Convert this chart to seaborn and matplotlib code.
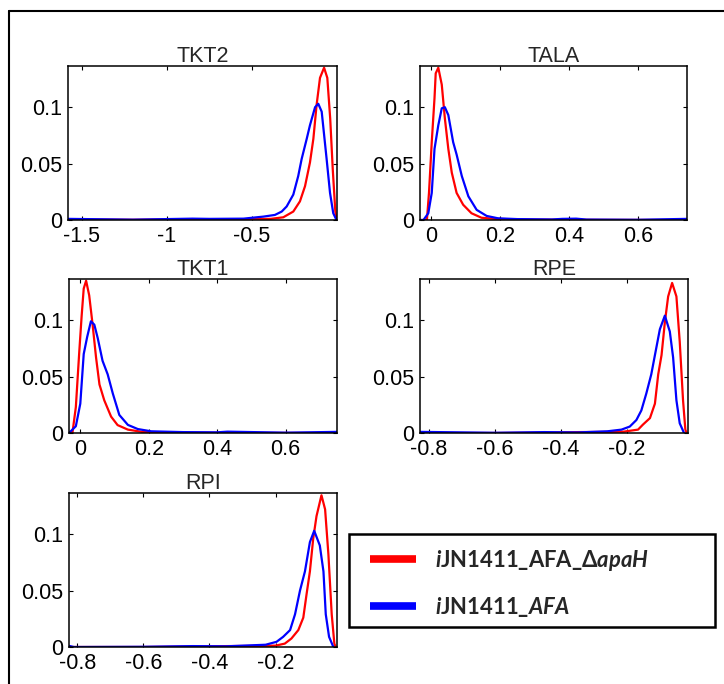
import numpy as np
import pandas as pd
import seaborn as sns
import matplotlib
matplotlib.use("Agg")
import matplotlib.pyplot as plt
from matplotlib.lines import Line2D
from matplotlib.patches import Rectangle

# ---------------- data ----------------
panels = ["TKT2", "TALA", "TKT1", "RPE", "RPI"]
models = [r"$\mathit{i}\mathrm{JN1411\_AFA\_\Delta}\mathit{apaH}$",
          r"$\mathit{i}\mathrm{JN1411\_}\mathit{AFA}$"]

tkt2_red_x = [-1.58, -1.2, -0.85, -0.7, -0.5, -0.39, -0.316, -0.257, -0.218, -0.188, -0.159,
              -0.139, -0.12, -0.10, -0.076, -0.057, -0.04, -0.025, -0.01, -0.003]
tkt2_red_y = [0.0005, 0.0002, 0.0008, 0.0006, 0.0008, 0.001, 0.0024, 0.0075, 0.0165, 0.030, 0.051,
              0.072, 0.102, 0.126, 0.135, 0.126, 0.09, 0.045, 0.008, 0.0]
tkt2_blue_x = [-1.58, -1.2, -0.85, -0.75, -0.55, -0.433, -0.365, -0.325, -0.296, -0.257, -0.228,
               -0.208, -0.178, -0.159, -0.129, -0.110, -0.090, -0.061, -0.041, -0.022, -0.003]
tkt2_blue_y = [0.001, 0.0003, 0.0012, 0.001, 0.0012, 0.003, 0.0045, 0.0075, 0.012, 0.0225, 0.039,
               0.054, 0.072, 0.084, 0.100, 0.103, 0.096, 0.054, 0.024, 0.006, 0.0]

tala_red_x = [-0.032, -0.012, -0.006, 0.002, 0.010, 0.0135, 0.021, 0.031, 0.040, 0.050, 0.060,
              0.074, 0.093, 0.117, 0.146, 0.185, 0.3, 0.5, 0.741]
tala_red_y = [0.0, 0.0, 0.024, 0.069, 0.108, 0.130, 0.135, 0.12, 0.090, 0.063, 0.042,
              0.024, 0.0135, 0.006, 0.002, 0.001, 0.0003, 0.0001, 0.0]
tala_blue_x = [-0.032, -0.022, -0.008, 0.002, 0.010, 0.021, 0.031, 0.040, 0.050, 0.064, 0.074,
               0.089, 0.108, 0.132, 0.161, 0.194, 0.25, 0.35, 0.38, 0.42, 0.45, 0.6, 0.74]
tala_blue_y = [0.0, 0.0, 0.006, 0.024, 0.063, 0.084, 0.099, 0.100, 0.093, 0.069, 0.058,
               0.039, 0.021, 0.009, 0.0036, 0.0015, 0.0008, 0.0005, 0.001, 0.0012, 0.0004, 0.0002, 0.001]

tkt1_red_x = [-0.033, -0.023, -0.013, -0.003, 0.004, 0.010, 0.017, 0.026, 0.036, 0.046, 0.056,
              0.070, 0.090, 0.109, 0.139, 0.18, 0.3, 0.5, 0.75]
tkt1_red_y = [0.0, 0.0, 0.023, 0.072, 0.104, 0.128, 0.135, 0.122, 0.096, 0.067, 0.043,
              0.029, 0.0145, 0.007, 0.003, 0.001, 0.0003, 0.0001, 0.0]
tkt1_blue_x = [-0.033, -0.013, 0.0, 0.010, 0.020, 0.031, 0.041, 0.051, 0.065, 0.080, 0.095,
               0.114, 0.139, 0.168, 0.207, 0.3, 0.4, 0.43, 0.6, 0.75]
tkt1_blue_y = [0.0, 0.006, 0.026, 0.070, 0.085, 0.099, 0.096, 0.084, 0.064, 0.052, 0.035,
               0.016, 0.0072, 0.0035, 0.0015, 0.0008, 0.0006, 0.0012, 0.0003, 0.001]

rpe_red_x = [-0.826, -0.6, -0.45, -0.35, -0.25, -0.21, -0.167, -0.152, -0.131, -0.116, -0.106,
             -0.096, -0.086, -0.076, -0.064, -0.051, -0.041, -0.031, -0.024, -0.02]
rpe_red_y = [0.0, 0.0, 0.0003, 0.0008, 0.001, 0.0012, 0.003, 0.0075, 0.0132, 0.026, 0.052,
             0.069, 0.098, 0.121, 0.133, 0.121, 0.081, 0.029, 0.003, 0.0]
rpe_blue_x = [-0.826, -0.6, -0.45, -0.35, -0.26, -0.217, -0.192, -0.172, -0.157, -0.142, -0.127,
              -0.116, -0.101, -0.086, -0.071, -0.061, -0.051, -0.041, -0.028]
rpe_blue_y = [0.001, 0.0002, 0.0008, 0.0005, 0.0015, 0.003, 0.0057, 0.0115, 0.020, 0.035, 0.052,
              0.069, 0.092, 0.104, 0.090, 0.067, 0.029, 0.0086, 0.0]

rpi_red_x = [-0.825, -0.6, -0.44, -0.35, -0.25, -0.2, -0.172, -0.152, -0.131, -0.116, -0.106,
             -0.096, -0.086, -0.076, -0.061, -0.050, -0.040, -0.030, -0.022, -0.018]
rpi_red_y = [0.0, 0.0, 0.0004, 0.0008, 0.001, 0.0012, 0.003, 0.0075, 0.015, 0.026, 0.047,
             0.067, 0.096, 0.116, 0.1345, 0.122, 0.082, 0.029, 0.003, 0.0]
rpi_blue_x = [-0.825, -0.81, -0.6, -0.45, -0.35, -0.23, -0.197, -0.177, -0.156, -0.141, -0.126,
              -0.111, -0.096, -0.083, -0.066, -0.055, -0.048, -0.038, -0.025]
rpi_blue_y = [0.001, 0.0, 0.0002, 0.0008, 0.0006, 0.002, 0.0046, 0.009, 0.015, 0.029, 0.050,
              0.067, 0.093, 0.103, 0.090, 0.067, 0.029, 0.009, 0.0]

xticks = {
    "TKT2": [-1.5, -1, -0.5],
    "TALA": [0, 0.2, 0.4, 0.6],
    "TKT1": [0, 0.2, 0.4, 0.6],
    "RPE": [-0.8, -0.6, -0.4, -0.2],
    "RPI": [-0.8, -0.6, -0.4, -0.2],
}
xtick_labels = {
    "TKT2": ["-1.5", "-1", "-0.5"],
    "TALA": ["0", "0.2", "0.4", "0.6"],
    "TKT1": ["0", "0.2", "0.4", "0.6"],
    "RPE": ["-0.8", "-0.6", "-0.4", "-0.2"],
    "RPI": ["-0.8", "-0.6", "-0.4", "-0.2"],
}
yticks = [0, 0.05, 0.1]
ytick_labels = ["0", "0.05", "0.1"]

# ---------------- build long-form table ----------------
series = {
    "TKT2": ((tkt2_red_x, tkt2_red_y), (tkt2_blue_x, tkt2_blue_y)),
    "TALA": ((tala_red_x, tala_red_y), (tala_blue_x, tala_blue_y)),
    "TKT1": ((tkt1_red_x, tkt1_red_y), (tkt1_blue_x, tkt1_blue_y)),
    "RPE": ((rpe_red_x, rpe_red_y), (rpe_blue_x, rpe_blue_y)),
    "RPI": ((rpi_red_x, rpi_red_y), (rpi_blue_x, rpi_blue_y)),
}
rows = []
for p, pair in series.items():
    for m, (xs, ys) in zip(models, pair):
        for xv, yv in zip(xs, ys):
            rows.append((p, m, xv, yv))
df = pd.DataFrame(rows, columns=["panel", "model", "x", "y"])

# ---------------- styling ----------------
sns.set_style("ticks")
plt.rcParams["font.family"] = ["Liberation Sans", "DejaVu Sans"]
plt.rcParams["axes.unicode_minus"] = False
plt.rcParams["mathtext.fontset"] = "custom"
plt.rcParams["mathtext.rm"] = "Lato:bold"
plt.rcParams["mathtext.it"] = "Lato:italic:bold"
plt.rcParams["mathtext.bf"] = "Lato:bold"

palette = {models[0]: "#ff0000", models[1]: "#0000ff"}

W, H = 724, 684
fig = plt.figure(figsize=(W / 100, H / 100), dpi=100)

# axes boxes in pixels: left, top, right, bottom
boxes = {
    "TKT2": (68, 66, 337, 220),
    "TALA": (420, 66, 687, 220),
    "TKT1": (69, 279, 337, 433),
    "RPE": (420, 279, 688, 433),
    "RPI": (69, 493, 337, 647),
}
xlims = {
    "TKT2": (-1.582, 0.0),
    "TALA": (-0.032, 0.741),
    "TKT1": (-0.033, 0.75),
    "RPE": (-0.826, -0.016),
    "RPI": (-0.825, -0.014),
}

handles = None
for p in panels:
    l, t, r, b = boxes[p]
    ax = fig.add_axes([l / W, 1 - b / H, (r - l) / W, (b - t) / H])
    sub = df[df.panel == p]
    sns.lineplot(data=sub, x="x", y="y", hue="model", hue_order=models, palette=palette,
                 estimator=None, sort=False, lw=1.6, ax=ax, legend=(p == "RPI"))
    if p == "RPI":
        handles, labels = ax.get_legend_handles_labels()
        ax.get_legend().remove()
    ax.set_xlim(*xlims[p])
    ax.set_ylim(0, 0.1365)
    ax.set_xticks(xticks[p])
    ax.set_xticklabels(xtick_labels[p])
    ax.set_yticks(yticks)
    ax.set_yticklabels(ytick_labels)
    ax.set_xlabel("")
    ax.set_ylabel("")
    ax.set_title(p, fontsize=15.5, pad=3)
    ax.tick_params(direction="in", top=True, right=True, length=3, width=0.8,
                   labelsize=15.5, pad=4, colors="black")
    for s in ax.spines.values():
        s.set_linewidth(1.1)
        s.set_color("black")

# legend box
lx0, ly0, lx1, ly1 = 349, 534, 715, 627
fig.add_artist(Rectangle((lx0 / W, 1 - ly1 / H), (lx1 - lx0) / W, (ly1 - ly0) / H,
                         transform=fig.transFigure, facecolor="white", edgecolor="black",
                         linewidth=1.8, zorder=5))
leg = fig.legend(handles, models, loc="center left", bbox_to_anchor=(370 / W, 1 - 583.5 / H),
                 frameon=False, fontsize=15.8, handlelength=2.1, handletextpad=0.85,
                 labelspacing=1.0, borderpad=0, borderaxespad=0)
leg.set_zorder(6)
for ln in leg.get_lines():
    ln.set_linewidth(5.5)
    ln.set_solid_capstyle("butt")

# outer frame (top and left)
fig.add_artist(Line2D([9 / W, 1.0], [1 - 11 / H, 1 - 11 / H], transform=fig.transFigure,
                      color="black", lw=1.5))
fig.add_artist(Line2D([9 / W, 9 / W], [0.0, 1 - 11 / H], transform=fig.transFigure,
                      color="black", lw=1.5))

fig.savefig("out.png", dpi=100, facecolor="white")
